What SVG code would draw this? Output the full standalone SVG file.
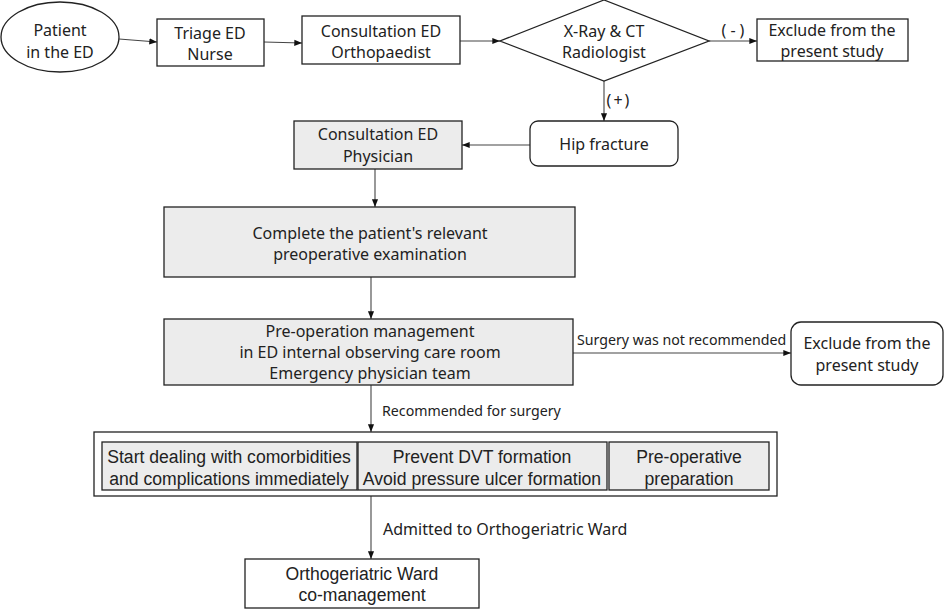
<svg xmlns="http://www.w3.org/2000/svg" width="945" height="609" viewBox="0 0 945 609">
<style>
.n{fill:#fff;stroke:#222;stroke-width:1.3}
.g{fill:#ececec;stroke:#222;stroke-width:1.3}
text{font-family:"Noto Sans","Liberation Sans",sans-serif;font-size:16px;fill:#222;text-anchor:middle}
.c{font-family:"Liberation Sans",sans-serif;font-size:17.6px}
.s{font-size:14.2px;text-anchor:start}
.l{fill:none;stroke:#444;stroke-width:1.1}
</style>
<defs>
<marker id="a" viewBox="0 0 10 10" refX="10" refY="5" markerWidth="7" markerHeight="7" orient="auto"><path d="M0,1 L10,5 L0,9 z" fill="#111"/></marker>
</defs>
<g id="connectors">
<line class="l" x1="119" y1="39" x2="157" y2="42" marker-end="url(#a)"/>
<line class="l" x1="264" y1="42" x2="302" y2="43" marker-end="url(#a)"/>
<line class="l" x1="460" y1="41" x2="500" y2="41" marker-end="url(#a)"/>
<line class="l" x1="709" y1="41" x2="757" y2="41" marker-end="url(#a)"/>
<text x="735" y="36" style="letter-spacing:4px">(-)</text>
<line class="l" x1="604" y1="81" x2="604" y2="121" marker-end="url(#a)"/>
<text x="619" y="106" style="letter-spacing:2px">(+)</text>
<line class="l" x1="530" y1="145" x2="462" y2="145" marker-end="url(#a)"/>
<line class="l" x1="375" y1="169" x2="375" y2="207" marker-end="url(#a)"/>
<line class="l" x1="371" y1="277" x2="371" y2="319" marker-end="url(#a)"/>
<line class="l" x1="573" y1="353" x2="791" y2="353" marker-end="url(#a)"/>
<text class="s" x="577" y="345">Surgery was not recommended</text>
<line class="l" x1="371" y1="385" x2="371" y2="432" marker-end="url(#a)"/>
<text class="s" x="382" y="416">Recommended for surgery</text>
<line class="l" x1="371" y1="496" x2="371" y2="559" marker-end="url(#a)"/>
<text x="383" y="535" style="text-anchor:start">Admitted to Orthogeriatric Ward</text>
</g>
<g id="patient"><ellipse class="n" cx="60" cy="37" rx="59" ry="35"/><text x="60" y="36">Patient</text><text x="60" y="58">in the ED</text></g>
<g id="triage"><rect class="n" x="157" y="19" width="107" height="47"/><text x="210" y="39">Triage ED</text><text x="210" y="60">Nurse</text></g>
<g id="ortho"><rect class="n" x="302" y="16" width="158" height="48"/><text x="381" y="37">Consultation ED</text><text x="381" y="58">Orthopaedist</text></g>
<g id="xray"><polygon class="n" points="604,0 709,41 604,81 500,41"/><text x="604" y="37">X-Ray &amp; CT</text><text x="604" y="58">Radiologist</text></g>
<g id="exclude1"><rect class="n" x="757" y="19" width="151" height="42"/><text x="832" y="36">Exclude from the</text><text x="832" y="57">present study</text></g>
<g id="hip"><rect class="n" x="530" y="121" width="148" height="45" rx="8"/><text x="604" y="150">Hip fracture</text></g>
<g id="physician"><rect class="g" x="294" y="121" width="168" height="48"/><text x="378" y="140">Consultation ED</text><text x="378" y="162">Physician</text></g>
<g id="complete"><rect class="g" x="164" y="207" width="411" height="70"/><text x="370" y="239">Complete the patient's relevant</text><text x="370" y="260">preoperative examination</text></g>
<g id="preop"><rect class="g" x="164" y="319" width="409" height="66"/><text x="370" y="337">Pre-operation management</text><text x="370" y="358">in ED internal observing care room</text><text x="370" y="379">Emergency physician team</text></g>
<g id="exclude2"><rect class="n" x="791" y="322" width="152" height="63" rx="10"/><text x="867" y="349">Exclude from the</text><text x="867" y="371">present study</text></g>
<g id="group"><rect class="n" x="94" y="432" width="683" height="64"/>
<rect class="g" x="102" y="442" width="255" height="48"/><text class="c" x="229" y="463">Start dealing with comorbidities</text><text class="c" x="229" y="485">and complications immediately</text>
<rect class="g" x="358" y="442" width="249" height="48"/><text class="c" x="482" y="463">Prevent DVT formation</text><text class="c" x="482" y="485">Avoid pressure ulcer formation</text>
<rect class="g" x="609" y="442" width="160" height="48"/><text class="c" x="689" y="463">Pre-operative</text><text class="c" x="689" y="485">preparation</text></g>
<g id="ward"><rect class="n" x="245" y="559" width="234" height="49"/><text class="c" x="362" y="580">Orthogeriatric Ward</text><text class="c" x="362" y="601">co-management</text></g>
</svg>
